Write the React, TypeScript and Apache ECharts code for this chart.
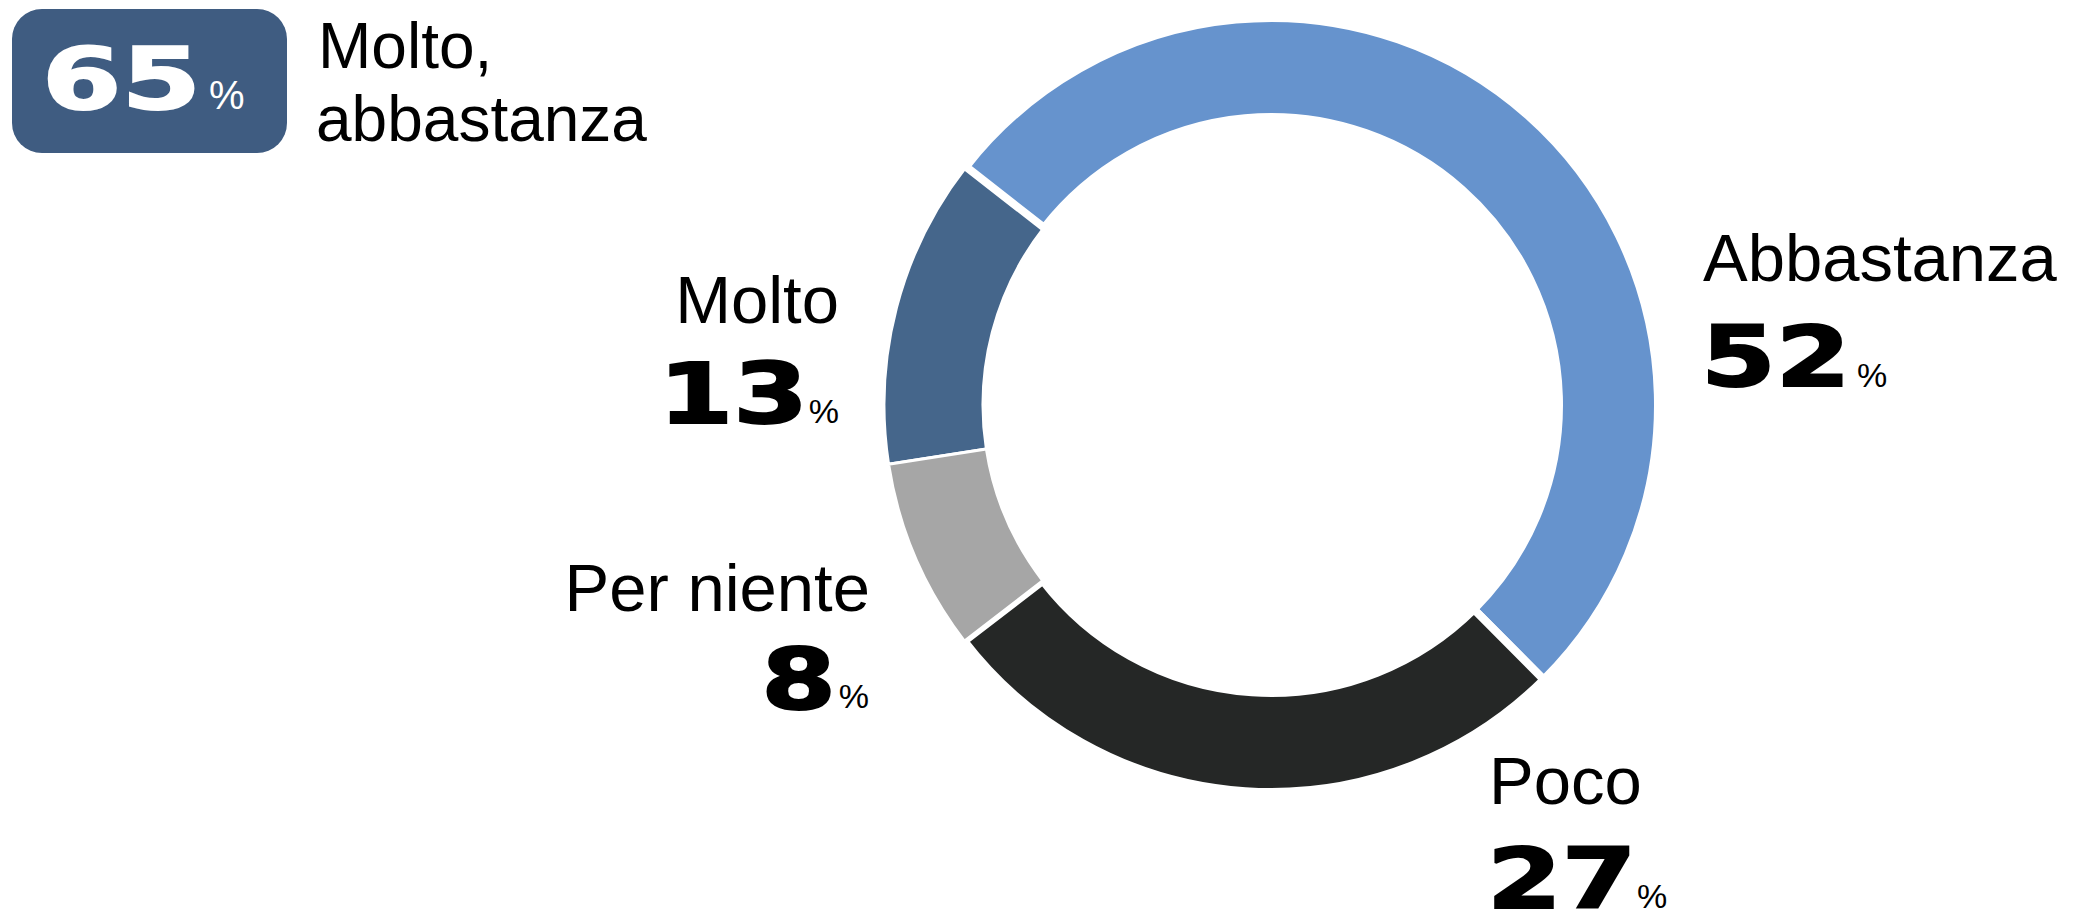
import React, { useEffect, useRef } from "react";
import * as echarts from "echarts";

// ---- data (clockwise from the Molto slice) ----
const categories = ["Molto", "Abbastanza", "Poco", "Per niente"];
const values = [13, 52, 27, 8];
const colors = ["#45668B", "#6693CD", "#252726", "#A6A6A6"];
const summaryValue = 65;
const summaryLabel = ["Molto,", "abbastanza"];

// ---- layout (positions / styles only) ----
const borderWidths = [3, 8, 8, 3];
type LabelPos = {
  align: "left" | "right";
  nameX: number; nameY: number;
  numX: number; numY: number;
  pctX: number; pctY: number;
};
const labelPos: LabelPos[] = [
  { align: "right", nameX: 839, nameY: 299, numX: 808, numY: 394, pctX: 839, pctY: 411 },
  { align: "left", nameX: 1703, nameY: 257, numX: 1701, numY: 357, pctX: 1857, pctY: 375 },
  { align: "left", nameX: 1489, nameY: 780, numX: 1487, numY: 879, pctX: 1637, pctY: 896 },
  { align: "right", nameX: 870, nameY: 587, numX: 836, numY: 680, pctX: 869, pctY: 696 },
];

const NAME_FONT = "Liberation Sans, Arial, Helvetica, sans-serif";
const NUM_FONT = "DejaVu Sans, sans-serif";

function txt(x: number, y: number, text: string, opts: any) {
  const align = opts.align || "left";
  const fill = opts.fill || "#000000";
  return {
    type: "text",
    x,
    y,
    scaleX: opts.scaleX || 1,
    silent: true,
    style: {
      text,
      fill,
      stroke: opts.thicken ? fill : undefined,
      lineWidth: opts.thicken || 0,
      fontSize: opts.fontSize,
      fontFamily: opts.fontFamily || NAME_FONT,
      fontWeight: opts.fontWeight || "normal",
      align,
      verticalAlign: "middle",
      textAlign: align,
      textVerticalAlign: "middle",
    },
  };
}

export default function App() {
  const ref = useRef<HTMLDivElement>(null);

  useEffect(() => {
    document.body.style.margin = "0";
    if (!ref.current) return;
    const chart = echarts.init(ref.current, undefined, { renderer: "svg" });

    const graphics: any[] = [];
    categories.forEach((name, i) => {
      const p = labelPos[i];
      graphics.push(txt(p.nameX, p.nameY, name, { fontSize: 67, align: p.align }));
      graphics.push(
        txt(p.numX, p.numY, String(values[i]), {
          fontSize: 84,
          fontFamily: NUM_FONT,
          fontWeight: "bold",
          scaleX: 1.28,
          thicken: 2,
          align: p.align,
        })
      );
      graphics.push(txt(p.pctX, p.pctY, "%", { fontSize: 34, align: p.align }));
    });

    // summary box
    graphics.push({
      type: "rect",
      silent: true,
      shape: { x: 12, y: 9, width: 275, height: 144, r: 30 },
      style: { fill: "#3F5C81" },
    });
    graphics.push(
      txt(42, 79, String(summaryValue), {
        fontSize: 86,
        fontFamily: NUM_FONT,
        fontWeight: "bold",
        scaleX: 1.33,
        thicken: 2,
        fill: "#ffffff",
      })
    );
    graphics.push(txt(209, 95, "%", { fontSize: 40, fill: "#ffffff" }));
    graphics.push(txt(318, 46, summaryLabel[0], { fontSize: 64 }));
    graphics.push(txt(316, 119, summaryLabel[1], { fontSize: 64 }));

    chart.setOption({
      animation: false,
      backgroundColor: "#ffffff",
      graphic: { elements: graphics },
      series: [
        {
          type: "pie",
          center: [1271, 405],
          radius: [288, 387],
          startAngle: 188.8,
          clockwise: true,
          silent: true,
          label: { show: false },
          labelLine: { show: false },
          data: categories.map((name, i) => ({
            name,
            value: values[i],
            itemStyle: {
              color: colors[i],
              borderColor: "#ffffff",
              borderWidth: borderWidths[i],
            },
          })),
        },
      ],
    });

    return () => {
      chart.dispose();
    };
  }, []);

  return <div ref={ref} style={{ width: 2077, height: 913 }} />;
}
